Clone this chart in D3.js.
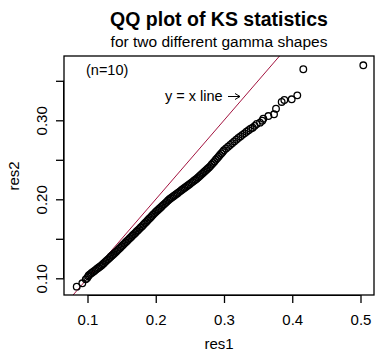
<!DOCTYPE html>
<html>
<head>
<meta charset="utf-8">
<script src="https://cdn.jsdelivr.net/npm/d3@7"></script>
<style>
  body { margin: 0; background: #fff; }
  text { font-family: "Liberation Sans", Arial, sans-serif; }
</style>
</head>
<body>
<svg width="390" height="363"></svg>
<script>
// sorted KS statistics (res1 on x, res2 on y)
const res1 = [0.0842, 0.0924, 0.0974, 0.0995, 0.1010, 0.1020,
  0.104, 0.106, 0.108, 0.110, 0.112, 0.114, 0.116, 0.118, 0.120,
  0.122, 0.124, 0.126, 0.128, 0.130, 0.132, 0.134, 0.136, 0.138, 0.140,
  0.142, 0.144, 0.146, 0.148, 0.150, 0.152, 0.154, 0.156, 0.158, 0.160,
  0.162, 0.164, 0.166, 0.168, 0.170, 0.172, 0.174, 0.176, 0.178, 0.180,
  0.182, 0.184, 0.186, 0.188, 0.190, 0.192, 0.194, 0.196, 0.198, 0.200,
  0.202, 0.204, 0.206, 0.208, 0.210, 0.212, 0.214, 0.216, 0.218, 0.220,
  0.222, 0.224, 0.226, 0.228, 0.230, 0.232, 0.234, 0.236, 0.238, 0.240,
  0.242, 0.244, 0.246, 0.248, 0.250, 0.252, 0.254, 0.256, 0.258, 0.260,
  0.262, 0.264, 0.266, 0.268, 0.270, 0.272, 0.274, 0.276, 0.278, 0.280,
  0.282, 0.284, 0.286, 0.288, 0.290, 0.292, 0.294, 0.296, 0.298, 0.300,
  0.303, 0.306, 0.309, 0.312, 0.315, 0.318, 0.321, 0.324, 0.327, 0.330,
  0.333, 0.336, 0.339, 0.342, 0.345, 0.348,
  0.3527, 0.3560, 0.3576, 0.3650, 0.3733, 0.3762, 0.3845, 0.3884, 0.3992, 0.4074,
  0.4162, 0.5041];
const res2 = [0.0894, 0.0937, 0.0987, 0.1005, 0.1025, 0.1040,
  0.1053, 0.1067, 0.1080, 0.1093, 0.1107, 0.1120, 0.1133, 0.1147, 0.1160,
  0.1176, 0.1192, 0.1208, 0.1224, 0.1240, 0.1256, 0.1272, 0.1288, 0.1304, 0.1320,
  0.1337, 0.1354, 0.1371, 0.1388, 0.1405, 0.1422, 0.1439, 0.1456, 0.1473, 0.1490,
  0.1507, 0.1524, 0.1541, 0.1558, 0.1575, 0.1592, 0.1609, 0.1626, 0.1643, 0.1660,
  0.1678, 0.1696, 0.1714, 0.1732, 0.1750, 0.1768, 0.1786, 0.1804, 0.1822, 0.1840,
  0.1856, 0.1872, 0.1888, 0.1904, 0.1920, 0.1936, 0.1952, 0.1968, 0.1984, 0.2000,
  0.2013, 0.2026, 0.2039, 0.2052, 0.2065, 0.2078, 0.2091, 0.2104, 0.2117, 0.2130,
  0.2143, 0.2156, 0.2169, 0.2182, 0.2195, 0.2208, 0.2221, 0.2234, 0.2247, 0.2260,
  0.2276, 0.2292, 0.2308, 0.2324, 0.2340, 0.2356, 0.2372, 0.2388, 0.2404, 0.2420,
  0.2440, 0.2460, 0.2480, 0.2500, 0.2520, 0.2540, 0.2560, 0.2580, 0.2600, 0.2620,
  0.2643, 0.2665, 0.2688, 0.2710, 0.2733, 0.2755, 0.2777, 0.2796, 0.2816, 0.2835,
  0.2855, 0.2874, 0.2894, 0.2906, 0.2930, 0.2954,
  0.2970, 0.2995, 0.3020, 0.3054, 0.3076, 0.3147, 0.3232, 0.3257, 0.3266, 0.3316,
  0.3646, 0.3696];

const xTicks = [0.1, 0.2, 0.3, 0.4, 0.5];
const yTicks = [0.10, 0.15, 0.20, 0.25, 0.30, 0.35];
const yLabelled = [0.10, 0.20, 0.30];

const svg = d3.select('svg');
const boxL = 64, boxR = 374, boxT = 56, boxB = 295;
const font = '"Liberation Sans", Arial, sans-serif';

const x = d3.scaleLinear().domain([0.1, 0.5]).range([87.5, 360.5]);
const y = d3.scaleLinear().domain([0.1, 0.3]).range([278.3, 120.3]);

// titles
svg.append('text').attr('x', 219).attr('y', 26)
  .attr('text-anchor', 'middle').attr('font-size', 19.5).attr('font-weight', 'bold')
  .text('QQ plot of KS statistics');
svg.append('text').attr('x', 219).attr('y', 47)
  .attr('text-anchor', 'middle').attr('font-size', 15.5)
  .text('for two different gamma shapes');

// y = x line, clipped to plot box
svg.append('clipPath').attr('id', 'box')
  .append('rect').attr('x', boxL).attr('y', boxT)
  .attr('width', boxR - boxL).attr('height', boxB - boxT);

svg.append('line')
  .attr('clip-path', 'url(#box)')
  .attr('x1', x(0.07)).attr('y1', y(0.07))
  .attr('x2', x(0.4)).attr('y2', y(0.4))
  .attr('stroke', '#a3133f').attr('stroke-width', 1);

// points
const pts = res1.map((v, i) => [v, res2[i]]);
svg.append('g')
  .selectAll('circle')
  .data(pts)
  .enter()
  .append('circle')
  .attr('cx', d => x(d[0]))
  .attr('cy', d => y(d[1]))
  .attr('r', 3.3)
  .attr('fill', 'none')
  .attr('stroke', '#000')
  .attr('stroke-width', 1.3);

// box
svg.append('rect').attr('x', boxL).attr('y', boxT)
  .attr('width', boxR - boxL).attr('height', boxB - boxT)
  .attr('fill', 'none').attr('stroke', '#000').attr('stroke-width', 1.3);

// x axis
const xAxis = d3.axisBottom(x).tickValues(xTicks).tickSize(8).tickPadding(11)
  .tickFormat(d3.format('.1f'));
const gx = svg.append('g').attr('transform', `translate(0,${boxB})`).call(xAxis);
gx.select('.domain').attr('d', `M${x(0.1)},0.5H${x(0.5)}`);
gx.selectAll('line').attr('stroke-width', 1.3);
gx.selectAll('text').attr('font-size', 15).attr('font-family', font).attr('fill', '#000');

// y axis
const yAxis = d3.axisLeft(y).tickValues(yTicks).tickSize(8).tickPadding(0)
  .tickFormat(d => yLabelled.includes(d) ? d3.format('.2f')(d) : '');
const gy = svg.append('g').attr('transform', `translate(${boxL},0)`).call(yAxis);
gy.select('.domain').attr('d', `M-0.5,${y(0.10)}V${y(0.35)}`);
gy.selectAll('line').attr('stroke-width', 1.3);
gy.selectAll('text')
  .attr('font-size', 15).attr('font-family', font).attr('fill', '#000')
  .attr('text-anchor', 'middle').attr('dy', null).attr('x', null)
  .attr('transform', 'translate(-17,0) rotate(-90)');

// axis titles
svg.append('text').attr('x', 219).attr('y', 349)
  .attr('text-anchor', 'middle').attr('font-size', 15).text('res1');
svg.append('text').attr('transform', 'translate(19,176) rotate(-90)')
  .attr('text-anchor', 'middle').attr('font-size', 15).text('res2');

// annotations
svg.append('text').attr('x', 86).attr('y', 75).attr('font-size', 14.5).text('(n=10)');
svg.append('text').attr('x', 165).attr('y', 101).attr('font-size', 14.5).text('y = x line');
svg.append('path')
  .attr('d', 'M228,96.5H240M235,93.5L240,96.5L235,99.5')
  .attr('fill', 'none').attr('stroke', '#000').attr('stroke-width', 1);
</script>
</body>
</html>
